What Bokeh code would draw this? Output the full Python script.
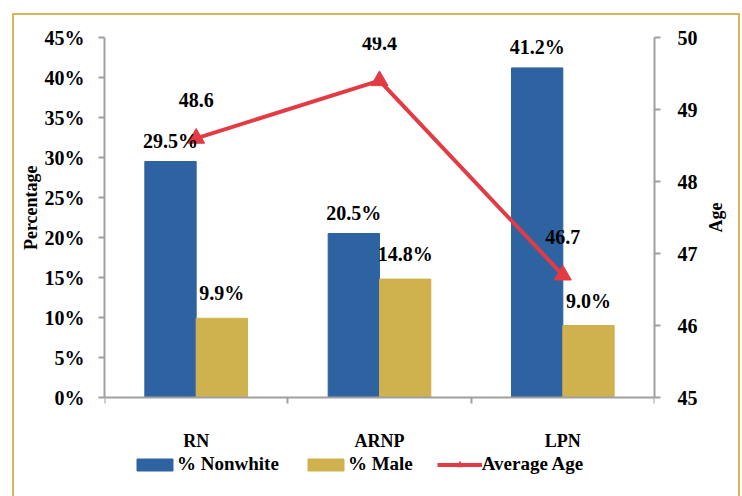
import math
from bokeh.plotting import figure
from bokeh.models import (Range1d, LinearAxis, FixedTicker, PrintfTickFormatter, Legend,
                          LegendItem, ColumnDataSource)
from bokeh.core.properties import value
from bokeh.embed import file_html
from bokeh.resources import INLINE

categories = ["RN", "ARNP", "LPN"]
pct_nonwhite = [29.5, 20.5, 41.2]
pct_male = [9.9, 14.8, 9.0]
avg_age = [48.6, 49.4, 46.7]
pct_ticks = [0, 5, 10, 15, 20, 25, 30, 35, 40, 45]
age_ticks = [45, 46, 47, 48, 49, 50]

FONT = "Liberation Serif"
BLUE = "#2E63A2"
GOLD = "#CFB24E"
RED = "#E23B43"
AXIS = "#A0A0A0"
NBSP = "\u00a0"

# layout (pixels)
W, H = 724, 481
ML, MR, MT, MB = 90, 77, 22, 6
AXIS_PX = 360          # height of the value axes
EXTRA_PX = (H - MT - MB) - AXIS_PX   # room below the 0 line for labels + legend

pct_lo, pct_hi = pct_ticks[0], pct_ticks[-1]
age_lo, age_hi = age_ticks[0], age_ticks[-1]
pct_ext = EXTRA_PX * (pct_hi - pct_lo) / AXIS_PX
age_ext = EXTRA_PX * (age_hi - age_lo) / AXIS_PX

xs = [i + 0.5 for i in range(len(categories))]
bounds = [float(i) for i in range(len(categories) + 1)]

src = ColumnDataSource(dict(
    x=xs,
    xb=[x - 0.14 for x in xs],
    xg=[x + 0.14 for x in xs],
    nonwhite=pct_nonwhite,
    male=pct_male,
    age=avg_age,
    nonwhite_lbl=[f"{v:.1f}%" for v in pct_nonwhite],
    male_lbl=[f"{v:.1f}%" for v in pct_male],
    age_lbl=[f"{v:.1f}" for v in avg_age],
))

p = figure(width=W, height=H, x_range=Range1d(0, len(categories)),
           y_range=Range1d(pct_lo - pct_ext, pct_hi),
           output_backend="svg", toolbar_location=None, x_axis_location=None,
           min_border_left=ML, min_border_right=MR, min_border_top=MT, min_border_bottom=MB,
           styles={"margin-left": "14px", "margin-top": "15px",
                   "outline": "2px solid #D6B85A", "outline-offset": "0px"})
p.extra_y_ranges = {"age": Range1d(age_lo - age_ext, age_hi)}
p.xgrid.visible = False
p.ygrid.visible = False
p.outline_line_color = None
p.background_fill_color = "white"
p.border_fill_color = "white"

def style_axis(ax, size="20px"):
    ax.axis_line_color = AXIS
    ax.axis_line_width = 2
    ax.major_tick_line_color = AXIS
    ax.major_tick_line_width = 2
    ax.minor_tick_line_color = AXIS
    ax.minor_tick_line_width = 2
    ax.major_label_text_font = FONT
    ax.major_label_text_font_style = "bold"
    ax.major_label_text_font_size = size
    ax.major_label_text_color = "black"
    ax.axis_label_text_font = FONT
    ax.axis_label_text_font_style = "bold"
    ax.axis_label_text_font_size = "18px"
    ax.axis_label_text_color = "black"

# x axis at the 0 line
xa = LinearAxis(fixed_location=pct_lo, ticker=FixedTicker(ticks=xs, minor_ticks=bounds))
xa.major_label_overrides = {x: c for x, c in zip(xs, categories)}
style_axis(xa, "18px")
xa.major_tick_out = 0
xa.major_tick_in = 0
xa.minor_tick_out = 6
xa.minor_tick_in = 0
xa.major_label_standoff = 27
p.add_layout(xa, "below")

# left axis (title padded so it centres on the 0-45% span, not the whole frame)
ya = p.yaxis[0]
ya.ticker = FixedTicker(ticks=pct_ticks)
ya.formatter = PrintfTickFormatter(format="%d%%")
ya.bounds = (pct_lo, pct_hi)
style_axis(ya)
ya.major_tick_out = 6
ya.major_tick_in = 0
ya.minor_tick_line_color = None
ya.major_label_standoff = 14
ya.axis_label = NBSP * 25 + "Percentage"
ya.axis_label_standoff = 1

# right axis
ra = LinearAxis(y_range_name="age", ticker=FixedTicker(ticks=age_ticks), bounds=(age_lo, age_hi))
style_axis(ra)
ra.major_tick_out = 6
ra.major_tick_in = 0
ra.minor_tick_line_color = None
ra.major_label_standoff = 17
ra.axis_label = NBSP * 7 + "Age"
ra.axis_label_standoff = 15
ra.axis_label_orientation = math.pi / 2
p.add_layout(ra, "right")

bw = 0.28
r_nw = p.vbar(x="xb", top="nonwhite", bottom=pct_lo, width=bw, source=src,
              fill_color=BLUE, line_color=BLUE)
r_m = p.vbar(x="xg", top="male", bottom=pct_lo, width=bw, source=src,
             fill_color=GOLD, line_color=GOLD)
r_line = p.line(x="x", y="age", source=src, y_range_name="age", line_color=RED, line_width=4)
r_mk = p.scatter(x="x", y="age", source=src, y_range_name="age", marker="triangle",
                 size=17, fill_color=RED, line_color=RED)

lbl = dict(text_font=value(FONT), text_font_style="bold", text_font_size="20px",
           text_align="center", text_baseline="middle", text_color="black")
p.text(x="xb", y="nonwhite", text="nonwhite_lbl", source=src, y_offset=-21, **lbl)
p.text(x="xg", y="male", text="male_lbl", source=src, y_offset=-25, **lbl)
p.text(x="x", y="age", text="age_lbl", source=src, y_range_name="age", y_offset=-38, **lbl)

legend = Legend(items=[
    LegendItem(label="% Nonwhite", renderers=[r_nw]),
    LegendItem(label="% Male", renderers=[r_m]),
    LegendItem(label="Average Age", renderers=[r_line, r_mk]),
], location=(28, 15), orientation="horizontal")
legend.label_text_font = FONT
legend.label_text_font_style = "bold"
legend.label_text_font_size = "19px"
legend.label_text_color = "black"
legend.glyph_width = 45
legend.glyph_height = 15
legend.label_height = 20
legend.label_standoff = 0
legend.spacing = 24
legend.padding = 0
legend.margin = 0
legend.border_line_color = None
legend.background_fill_alpha = 0
p.add_layout(legend, "center")

open("out.html", "w").write(file_html(p, INLINE))
